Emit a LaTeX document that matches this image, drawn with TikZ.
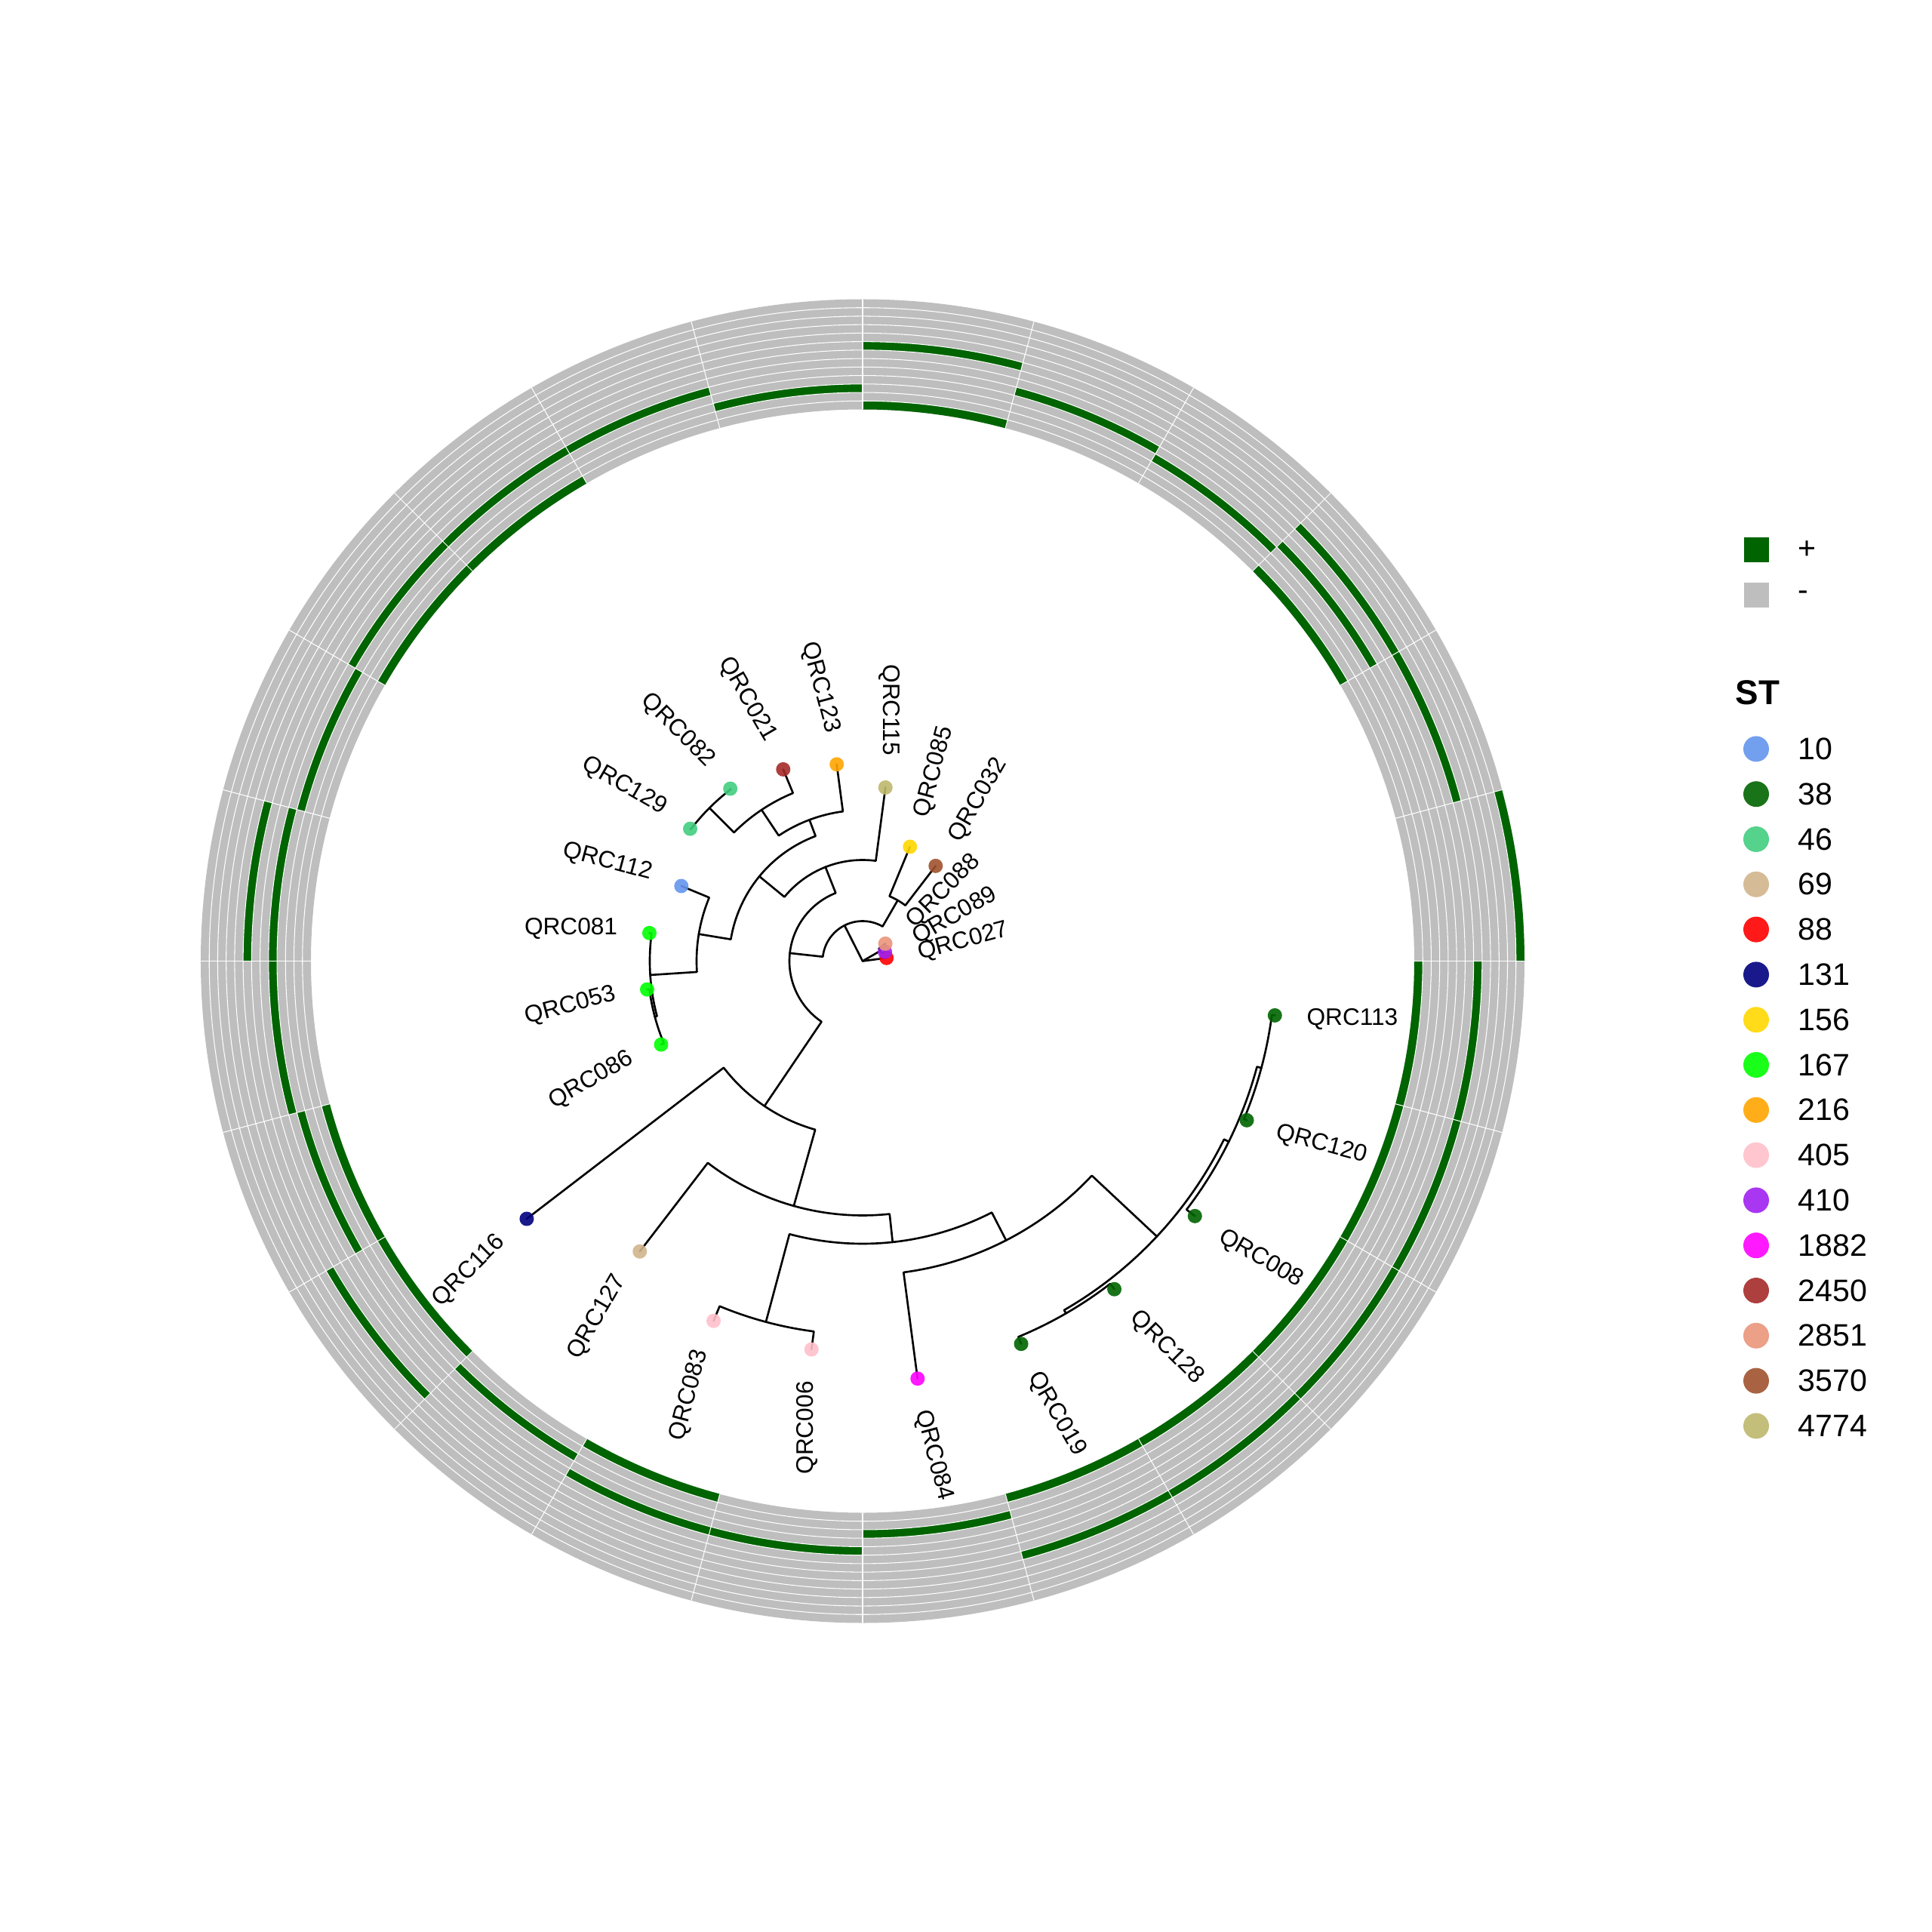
\documentclass[tikz,border=0pt]{standalone}
\usepackage{fontspec}
\setmainfont{Liberation Sans}
\definecolor{hmgreen}{RGB}{0,100,0}
\definecolor{hmgray}{RGB}{190,190,190}
\definecolor{st10}{RGB}{100,149,237}
\definecolor{st38}{RGB}{0,100,0}
\definecolor{st46}{RGB}{67,205,128}
\definecolor{st69}{RGB}{210,180,140}
\definecolor{st88}{RGB}{255,0,0}
\definecolor{st131}{RGB}{0,0,128}
\definecolor{st156}{RGB}{255,215,0}
\definecolor{st167}{RGB}{0,255,0}
\definecolor{st216}{RGB}{255,165,0}
\definecolor{st405}{RGB}{255,192,203}
\definecolor{st410}{RGB}{160,32,240}
\definecolor{st1882}{RGB}{255,0,255}
\definecolor{st2450}{RGB}{165,42,42}
\definecolor{st2851}{RGB}{233,150,122}
\definecolor{st3570}{RGB}{160,82,45}
\definecolor{st4774}{RGB}{189,183,107}

\begin{document}
\begin{tikzpicture}[
    branch/.style={line width=0.75pt, line cap=round, line join=round},
    hmsep/.style={white, line width=0.3pt},
    tipdot/.style={circle, inner sep=0pt, minimum size=1.9mm, fill=#1, fill opacity=0.9},
    tiplab/.style={font=\fontsize{9}{11}\selectfont, inner sep=0pt},
    legdot/.style={circle, inner sep=0pt, minimum size=3.4mm, fill=#1, fill opacity=0.9},
    leglab/.style={font=\fontsize{11.7}{14}\selectfont, inner sep=0pt, anchor=west}]
    \useasboundingbox (-11.43,-12.865) rectangle (14.17,12.735);

    % Heatmap ring: 24 sectors, 13 rings
    \fill[hmgray, even odd rule] (0,0) circle[radius=8.77] (0,0) circle[radius=7.31];
    \foreach \a/\i in {0/13, 15/8, 30/1, 30/5, 30/8, 45/4, 60/5, 75/1, 75/8, 90/3, 105/5,
                       120/1, 120/5, 135/1, 135/5, 150/4, 165/5, 165/8, 180/5, 195/1, 195/4,
                       210/1, 210/8, 225/3, 240/1, 240/5, 255/5, 270/3, 285/1, 285/8,
                       300/1, 300/8, 315/1, 315/8, 330/1, 330/8, 345/1, 345/8} {
        \pgfmathsetmacro{\ri}{7.31+(\i-1)*0.1123}
        \pgfmathsetmacro{\ro}{\ri+0.1123}
        \pgfmathsetmacro{\b}{\a+15}
        \fill[hmgreen] (\a:\ri) arc[start angle=\a, end angle=\b, radius=\ri]
            -- (\b:\ro) arc[start angle=\b, end angle=\a, radius=\ro] -- cycle;
    }
    \foreach \i in {1,...,12}
        \draw[hmsep] (0,0) circle[radius={7.31+\i*0.1123}];
    \foreach \a in {0,15,...,345}
        \draw[hmsep] (\a:7.31) -- (\a:8.77);

    % Tree nodes
    \coordinate (root) at (0,0);
    \foreach \n/\a/\r in {n1/135/2.87, n2/123.75/2.41, n3/110.625/2.00, n4/140.625/1.77,
                          n5/183.75/2.82, n6/195/2.85, n7/170.625/2.20, n8/111.5625/1.34,
                          n9/173.73/0.97, n10/235.9/2.32, n11/254.3/3.37, n12/276.1/3.745,
                          n13/255/4.95, n14/297.2/4.16, n15/316.9/5.34, n16/333.75/5.41,
                          n17/300/5.39, n18/345/5.47, n20/116.87/0.53, n22/30/0.27, n23/60/0.93}
        \coordinate (\n) at (\a:\r);
    \foreach \n/\a/\r in {113/352.5/5.51, 120/337.5/5.51, 008/322.5/5.55, 128/307.5/5.48,
                          019/292.5/5.49, 084/277.5/5.58, 006/262.5/5.19, 083/247.5/5.16,
                          127/232.5/4.85, 116/217.5/5.61, 086/202.5/2.89, 053/187.5/2.88,
                          081/172.5/2.85, 112/157.5/2.60, 129/142.5/2.88, 082/127.5/2.88,
                          021/112.5/2.75, 123/97.5/2.63, 115/82.5/2.32, 085/67.5/1.64,
                          032/52.5/1.59, 088/37.5/0.38, 089/22.5/0.32, 027/7.5/0.32}
        \coordinate (t\n) at (\a:\r);

    % Branches: child / child angle / parent radius / parent angle
    \foreach \c/\a/\r/\b in {t129/142.5/2.87/135, t082/127.5/2.87/135,
                             n1/135/2.41/123.75, t021/112.5/2.41/123.75,
                             n2/123.75/2.00/110.625, t123/97.5/2.00/110.625,
                             n3/110.625/1.77/140.625, n7/170.625/1.77/140.625,
                             t112/157.5/2.20/170.625, n5/183.75/2.20/170.625,
                             t081/172.5/2.82/183.75, n6/195/2.82/183.75,
                             t053/187.5/2.85/195, t086/202.5/2.85/195,
                             n4/140.625/1.34/111.5625, t115/82.5/1.34/111.5625,
                             n8/111.5625/0.97/173.73, n10/235.9/0.97/173.73,
                             t116/217.5/2.32/235.9, n11/254.3/2.32/235.9,
                             t127/232.5/3.37/254.3, n12/276.1/3.37/254.3,
                             n13/255/3.745/276.1, n14/297.2/3.745/276.1,
                             t083/247.5/4.95/255, t006/262.5/4.95/255,
                             t084/277.5/4.16/297.2, n15/316.9/4.16/297.2,
                             n17/300/5.34/316.9, n16/333.75/5.34/316.9,
                             t019/292.5/5.39/300, t128/307.5/5.39/300,
                             t008/322.5/5.41/333.75, n18/345/5.41/333.75,
                             t120/337.5/5.47/345, t113/352.5/5.47/345,
                             n9/173.73/0.53/116.87, n23/60/0.53/116.87,
                             t085/67.5/0.93/60, t032/52.5/0.93/60,
                             t088/37.5/0.27/30, t089/22.5/0.27/30}
        \draw[branch] (\c) -- (\a:\r) arc[start angle=\a, end angle=\b, radius=\r];
    \draw[branch] (n20) -- (root);
    \draw[branch] (n22) -- (root);
    \draw[branch] (t027) -- (root);

    % Tip points coloured by ST
    \foreach \n/\c in {113/st38, 120/st38, 008/st38, 128/st38, 019/st38, 084/st1882,
                       006/st405, 083/st405, 127/st69, 116/st131, 086/st167, 053/st167,
                       081/st167, 112/st10, 129/st46, 082/st46, 021/st2450, 123/st216,
                       115/st4774, 085/st156, 032/st3570, 027/st88, 089/st410, 088/st2851}
        \node[tipdot=\c] (d\n) at (t\n) {};

    % Tip labels
    \foreach \n/\a/\r/\rot/\anc in {113/352.5/5.51/0/west, 120/337.5/5.51/-15/west,
                                    008/322.5/5.55/-30/west, 128/307.5/5.48/-45/west,
                                    019/292.5/5.49/-60/west, 084/277.5/5.58/-75/west,
                                    006/262.5/5.19/90/east, 083/247.5/5.16/75/east,
                                    127/232.5/4.85/60/east, 116/217.5/5.61/45/east,
                                    086/202.5/2.89/30/east, 053/187.5/2.88/15/east,
                                    081/172.5/2.85/0/east, 112/157.5/2.60/-15/east,
                                    129/142.5/2.88/-30/east, 082/127.5/2.88/-45/east,
                                    021/112.5/2.75/-60/east, 123/97.5/2.63/-75/east,
                                    115/82.5/2.32/-90/east, 085/67.5/1.64/75/west,
                                    032/52.5/1.59/60/west, 088/37.5/0.38/45/west,
                                    089/22.5/0.32/30/west, 027/7.5/0.32/15/west}
        \node[tiplab, rotate=\rot, anchor=\anc] (l\n) at (\a:{\r+0.42}) {QRC\n};

    % Legend
    \fill[hmgreen] (11.675,5.285) rectangle (12.005,5.615);
    \fill[hmgray] (11.675,4.68) rectangle (12.005,5.01);
    \node[leglab] (lplus) at (12.39,5.45) {+};
    \node[leglab] (lminus) at (12.39,4.845) {-};
    \node[leglab, font=\bfseries\fontsize{13}{15}\selectfont] (lst) at (11.56,3.555) {ST};
    \foreach \k/\v in {0/10, 1/38, 2/46, 3/69, 4/88, 5/131, 6/156, 7/167, 8/216,
                       9/405, 10/410, 11/1882, 12/2450, 13/2851, 14/3570, 15/4774} {
        \node[legdot=st\v] (ld\v) at (11.84,{2.811-0.598*\k}) {};
        \node[leglab] (ll\v) at (12.39,{2.811-0.598*\k}) {\v};
    }
\end{tikzpicture}
\end{document}
